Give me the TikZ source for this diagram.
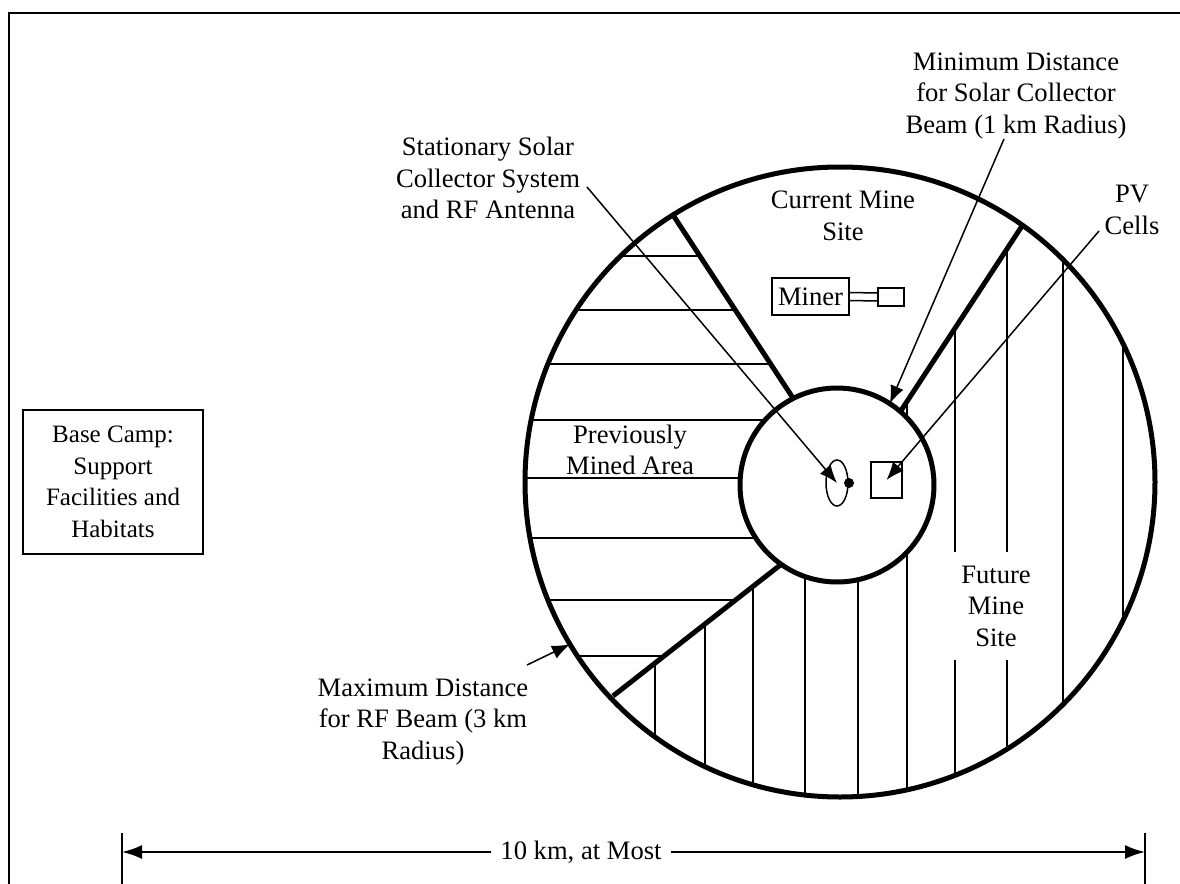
\documentclass[tikz,border=0pt]{standalone}
\usepackage{fontspec}
\setmainfont{Liberation Serif}
\usetikzlibrary{positioning, arrows.meta, shapes.geometric}

\begin{document}
\begin{tikzpicture}[x=0.5pt, y=-0.5pt,
    every node/.style={font=\fontsize{13.3}{15.75}\selectfont},
    lbl/.style={align=center, inner sep=0pt},
    boxed/.style={draw, line width=1pt, align=center},
    border/.style={line width=1pt},
    wedge/.style={line width=2.5pt},
    hatch/.style={line width=1pt},
    callout/.style={line width=0.75pt, -{Latex[length=9pt, width=7pt]}},
    dimline/.style={line width=1pt, -{Latex[length=10pt, width=7pt]}}]
    \useasboundingbox (0,0) rectangle (1180,884);

    % Frame
    \draw[border] (9,884) -- (9,13) -- (1180,13);

    % Previously mined area: horizontal hatching
    \begin{scope}
        \clip (810,424) -- (629,148) -- (480,148) -- (480,733) -- (566,733) -- (802,548) -- cycle;
        \clip (840,482) circle [radius=157.5pt];
        \foreach \y in {256,310,364,420,478,538,600,656} {
            \draw[hatch] (480,\y) -- (1000,\y);
        }
    \end{scope}

    % Future mine site: vertical hatching
    \begin{scope}
        \clip (885,435) -- (1044,193) -- (1200,193) -- (1200,850) -- (480,850) -- (566,733) -- (802,548) -- cycle;
        \clip (840,482) circle [radius=157.5pt];
        \foreach \x in {655,705,753,805,858,907,955,1007,1063,1123} {
            \draw[hatch] (\x,150) -- (\x,850);
        }
    \end{scope}

    % Sector boundaries
    \draw[wedge] (673,215) -- (810,424);
    \draw[wedge] (1022,226) -- (885,435);
    \draw[wedge] (613,696) -- (802,548);

    % Beam circles
    \node[draw, circle, fill=white, line width=2.5pt, minimum size=97pt, inner sep=0pt, outer sep=0pt] (inner) at (837,485) {};
    \node[draw, circle, line width=2.5pt, minimum size=315pt, inner sep=0pt, outer sep=0pt] (outer) at (840,482) {};

    % Collector, antenna and PV cells
    \node[draw, ellipse, line width=0.75pt, minimum width=11pt, minimum height=23pt, inner sep=0pt] (ant) at (837,483) {};
    \node[circle, fill, minimum size=5pt, inner sep=0pt] (antdot) at (849,483) {};
    \node[draw, line width=0.75pt, minimum width=15.5pt, minimum height=18pt, inner sep=0pt] (pv) at (886.5,480) {};

    % Miner
    \node[boxed, minimum width=38.5pt, minimum height=18.5pt, inner sep=1pt] (miner) at (810.5,296.5) {Miner};
    \node[draw, line width=0.75pt, minimum width=13pt, minimum height=9pt, inner sep=0pt] (bucket) at (891,297) {};
    \draw[line width=0.75pt] ([yshift=2pt]miner.east) -- ([yshift=2pt]bucket.west)
        ([yshift=-2pt]miner.east) -- ([yshift=-2pt]bucket.west);

    % Area labels
    \node[lbl] (curlbl) at (843,216) {Current Mine\\Site};
    \node[lbl] (prevlbl) at (630,450) {Previously\\Mined Area};
    \node[lbl, fill=white, minimum width=48pt, minimum height=54pt] (futlbl) at (996,606) {Future\\Mine\\Site};

    % Base camp
    \node[boxed, minimum width=90pt, minimum height=72pt, font=\fontsize{12.5}{15.75}\selectfont] (camp) at (113,482) {Base Camp:\\Support\\Facilities and\\Habitats};

    % Callouts
    \node[lbl] (statlbl) at (488,178) {Stationary Solar\\Collector System\\and RF Antenna};
    \node[lbl] (minlbl) at (1016,96) {Minimum Distance\\for Solar Collector\\Beam (1 km Radius)};
    \node[lbl] (pvlbl) at (1132,210) {PV\\Cells};
    \node[lbl] (maxlbl) at (423,722) {Maximum Distance\\for RF Beam (3 km\\Radius)};

    \coordinate (statfrom) at (587,187);
    \coordinate (minfrom) at (1004,139);
    \coordinate (pvfrom) at (1099,231);
    \coordinate (maxfrom) at (527,665);
    \draw[callout] (statfrom) -- (ant.center);
    \draw[callout] (minfrom) -- (inner.57);
    \draw[callout] (pvfrom) -- (pv.center);
    \draw[callout] (maxfrom) -- (outer.211);

    % Dimension line
    \draw[border] (122,833) -- (122,884);
    \draw[border] (1145,833) -- (1145,884);
    \coordinate (dimL) at (122,852);
    \coordinate (dimR) at (1145,852);
    \node[inner sep=4.5pt] (dimtxt) at (581,852) {10 km, at Most};
    \draw[dimline] (dimtxt) -- (dimL);
    \draw[dimline] (dimtxt) -- (dimR);
\end{tikzpicture}
\end{document}
